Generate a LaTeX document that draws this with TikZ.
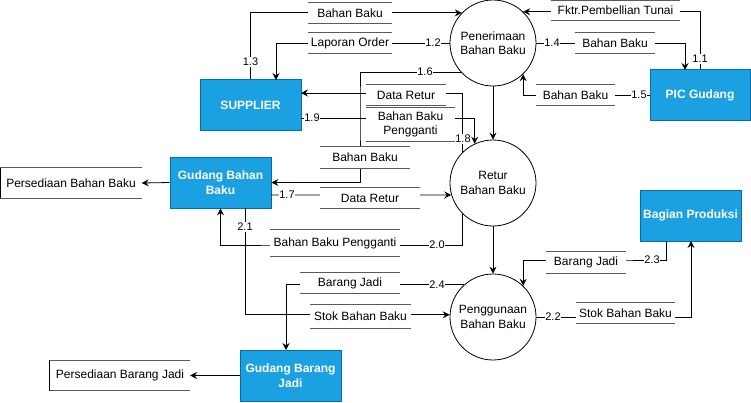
\documentclass[tikz,border=0pt]{standalone}
\usepackage{fontspec}
\setmainfont{Liberation Sans}
\usetikzlibrary{arrows.meta}
\definecolor{blu}{HTML}{1BA1E2}
\definecolor{bluD}{HTML}{006EAF}
\definecolor{sline}{HTML}{5A5A5A}
\tikzset{
  every node/.style={font=\fontsize{12}{14.5}\selectfont, text=black},
  proc/.style={circle, draw=black, line width=0.8pt, fill=white, minimum size=86pt, inner sep=0pt, align=center},
  ent/.style={rectangle, draw=bluD, fill=blu, text=white, font=\bfseries\fontsize{12}{14.5}\selectfont, minimum width=101pt, minimum height=51pt, inner sep=0pt, align=center, line width=0.8pt},
  flow/.style={draw=black, line width=0.8pt, -{Stealth[length=7pt,width=7pt,inset=2.5pt]}},
  storebox/.style={fill=white, inner sep=0pt, align=center},
  storeline/.style={draw=sline, line width=1pt},
  extbox/.style={inner sep=0pt, align=center},
  num/.style={fill=white, inner sep=0.8pt, font=\fontsize{11}{13}\selectfont},
}
\newcommand{\dstore}[5]{%
  \node[storebox, minimum width=#3, minimum height=#4] (#1) at #2 {#5};
  \draw[storeline] (#1.north west) -- (#1.north east) (#1.south west) -- (#1.south east);}
\begin{document}
\begin{tikzpicture}[x=1pt,y=-1pt]
\path[use as bounding box] (0,0) rectangle (751,402);
% processes
\node[proc] (pen) at (493,43) {Penerimaan\\Bahan Baku};
\node[proc] (ret) at (493,183) {Retur\\Bahan Baku};
\node[proc] (pgn) at (493,317) {Penggunaan\\Bahan Baku};
% entities
\node[ent] (sup) at (250.5,105) {SUPPLIER};
\node[ent, minimum width=100pt] (pic) at (700,95) {PIC Gudang};
\node[ent] (gbb) at (220.5,182.5) {Gudang Bahan\\Baku};
\node[ent] (gbj) at (290.5,375.5) {Gudang Barang\\Jadi};
\node[ent] (bp) at (690.5,215.5) {Bagian Produksi};
% external stores
\node[extbox, minimum width=141pt, minimum height=30pt] (pbb) at (71,183) {Persediaan Bahan Baku};
\draw[storeline] (pbb.north west) -- (pbb.north east) (pbb.south west) -- (pbb.south east);
\draw[draw=black, line width=0.8pt] ([xshift=0.5pt]pbb.north west) -- ([xshift=0.5pt]pbb.south west);
\node[extbox, minimum width=140pt, minimum height=30pt] (pbj) at (120,375.5) {Persediaan Barang Jadi};
\draw[storeline] (pbj.north west) -- (pbj.north east) (pbj.south west) -- (pbj.south east);
\draw[draw=black, line width=0.8pt] (pbj.north west) -- (pbj.south west);
% coordinates
\coordinate (s2) at (276,80);
\coordinate (p4) at (685,70);
\coordinate (c6) at (360,100);
\coordinate (s7) at (301,93);
\coordinate (s8) at (301,118);
\coordinate (g9) at (271,195);
\coordinate (c10) at (300,245);
\coordinate (g11) at (245,208);
\coordinate (g12) at (286,350);
\coordinate (b13) at (666,241);
\coordinate (c13) at (600,260);
\coordinate (b14) at (691,241);
% flows
\draw[flow] (sup.north) |- (pen.136);
\draw[flow] (pen.west) -| (s2);
\draw[flow] (pic.north) |- (pen.46);
\draw[flow] (pen.east) -| (p4);
\draw[flow] (pic.west) -| (pen.-46);
\draw[flow] (pen.222) -| (c6) |- (gbb.east);
\draw[flow] (ret.134) |- (s7);
\draw[flow] (s8) -| (ret.115);
\draw[flow] (g9) -- (ret.196);
\draw[flow] (ret.226) |- (c10) -| (gbb.south);
\draw[flow] (g11) |- (pgn.177);
\draw[flow] (pgn.132) -| (g12);
\draw[flow] (b13) |- (c13) -| (pgn.46);
\draw[flow] (pgn.east) -| (b14);
\draw[flow] (pen.south) -- (ret.north);
\draw[flow] (ret.south) -- (pgn.north);
\draw[flow] (gbb.west) -- (pbb.east);
\draw[flow] (gbj.west) -- (pbj.east);
% data stores
\dstore{d1}{(350,13)}{84pt}{20pt}{Bahan Baku}
\dstore{d2}{(350,43)}{84pt}{20pt}{Laporan Order}
\dstore{d3}{(615.5,10.5)}{129pt}{19pt}{Fktr.Pembellian Tunai}
\dstore{d4}{(615,43)}{80pt}{20pt}{Bahan Baku}
\dstore{d5}{(575.5,95)}{79pt}{20pt}{Bahan Baku}
\dstore{d6}{(406,95)}{80pt}{20pt}{Data Retur}
\dstore{d7}{(410.5,124.5)}{89pt}{33pt}{Bahan Baku\\Pengganti}
\dstore{d8}{(365,157.5)}{90pt}{21pt}{Bahan Baku}
\dstore{d9}{(370,198)}{100pt}{20pt}{Data Retur}
\dstore{d10}{(335,243)}{130pt}{26pt}{Bahan Baku Pengganti}
\dstore{d11}{(350,283)}{100pt}{20pt}{Barang Jadi}
\dstore{d12}{(360.5,316.5)}{101pt}{23pt}{Stok Bahan Baku}
\dstore{d13}{(586,262.5)}{80pt}{21pt}{Barang Jadi}
\dstore{d14}{(625.5,313)}{99pt}{20pt}{Stok Bahan Baku}
% flow numbers
\node[num] (n13) at (250.5,62) {1.3};
\node[num] (n12) at (433,43) {1.2};
\node[num] (n11) at (700,59) {1.1};
\node[num] (n14) at (552,43) {1.4};
\node[num] (n15) at (639,95) {1.5};
\node[num] (n16) at (425,72) {1.6};
\node[num] (n18) at (463,139) {1.8};
\node[num] (n19) at (312,118) {1.9};
\node[num] (n17) at (287,195) {1.7};
\node[num] (n20) at (437,245) {2.0};
\node[num] (n21) at (245,227) {2.1};
\node[num] (n24) at (437,285) {2.4};
\node[num] (n23) at (652,260) {2.3};
\node[num] (n22) at (553,317) {2.2};
\end{tikzpicture}
\end{document}
